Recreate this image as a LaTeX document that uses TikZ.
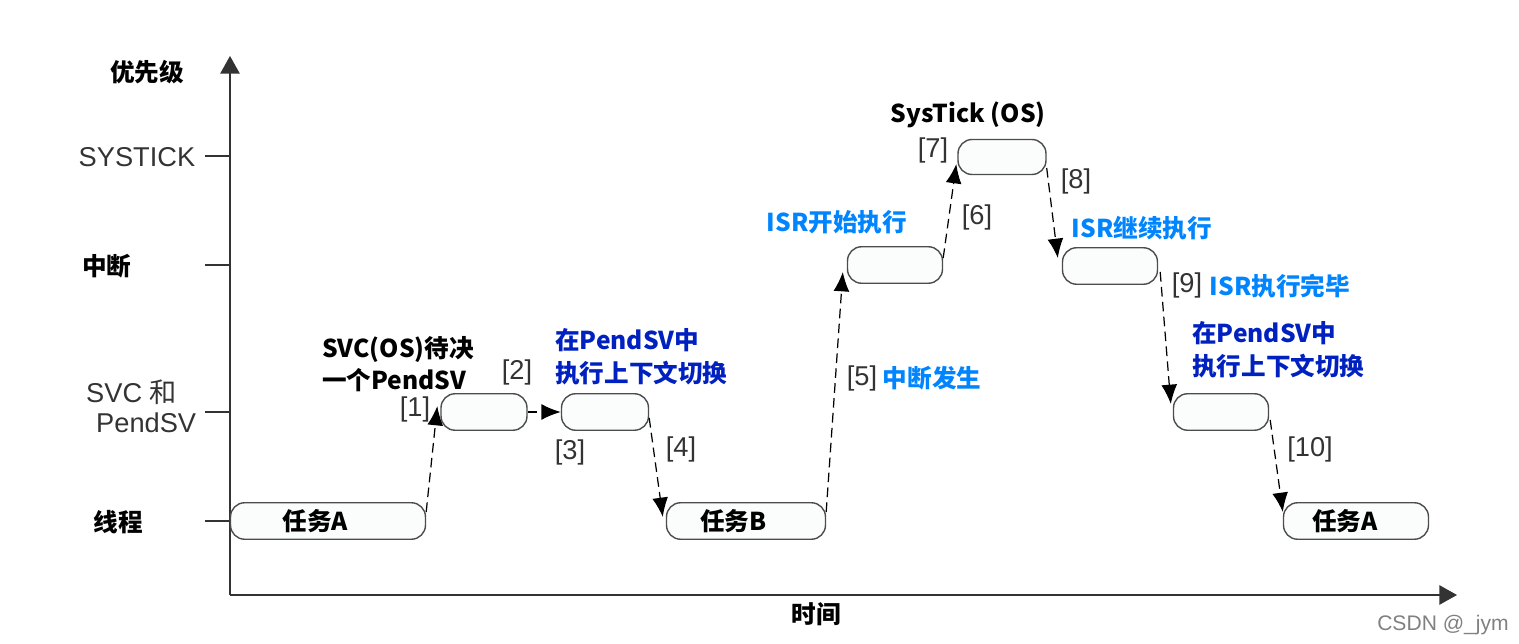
\documentclass[tikz,border=0pt]{standalone}
\usepackage{fontspec}
\setmainfont{Liberation Sans}
\newfontfamily\cjk{Noto Sans CJK SC}
\usetikzlibrary{arrows.meta}
\definecolor{DarkText}{rgb}{0.2,0.2,0.2}
\definecolor{BoxLine}{rgb}{0.3,0.3,0.3}
\definecolor{BoxFill}{rgb}{0.985,0.992,0.992}
\definecolor{DeepBlue}{rgb}{0.0,0.13,0.75}
\definecolor{SkyBlue}{rgb}{0.0,0.52,1.0}

\begin{document}
\begin{tikzpicture}[x=0.02cm,y=-0.02cm,
  slot/.style={draw=BoxLine,fill=BoxFill,line width=0.8pt,rounded corners=8pt,minimum height=0.73cm,inner sep=0pt},
  hanzi/.style={font=\cjk\bfseries\fontsize{14}{18.5}\selectfont},
  plain/.style={font=\fontsize{15.5}{18}\selectfont,text=DarkText},
  hop/.style={dashed,dash pattern=on 5.5pt off 3pt,line width=0.7pt,-{Latex[length=11pt,width=9pt]}}]
\useasboundingbox (0,0) rectangle (1519,644);

% axes
\draw[line width=0.8pt,DarkText,-{Triangle[length=10pt,width=11pt]}] (230,595) -- (230,56);
\draw[line width=0.8pt,DarkText,-{Triangle[length=10pt,width=11pt]}] (230,595) -- (1457,595);
\foreach \y in {156,265,412,521}
  \draw[line width=0.6pt,DarkText] (205,\y) -- (230,\y);

\node[hanzi] (prio) at (147,72) {优先级};
\node[plain] (lvlsys) at (137,157) {SYSTICK};
\node[hanzi] (lvlirq) at (107,266) {中断};
\node[plain,anchor=west] (lvlsvc) at (80,392) {SVC\ {\cjk 和}};
\node[plain,anchor=west] (lvlpend) at (90,423) {PendSV};
\node[hanzi] (lvlthr) at (118,522) {线程};
\node[hanzi] (time) at (816,614) {时间};

% running slots
\node[slot,minimum width=3.9cm,hanzi] (taskA) at (328,521) {任务A\kern0.5cm};
\node[slot,minimum width=1.72cm] (svcA) at (484,412) {};
\node[slot,minimum width=1.74cm] (svcB) at (605,412) {};
\node[slot,minimum width=3.18cm,hanzi] (taskB) at (746,521) {任务B\kern0.5cm};
\node[slot,minimum width=1.9cm] (isrA) at (895,265) {};
\node[slot,minimum width=1.76cm,minimum height=0.7cm] (tick) at (1002,157) {};
\node[slot,minimum width=1.9cm] (isrB) at (1110,266) {};
\node[slot,minimum width=1.9cm] (pend) at (1221,412) {};
\node[slot,minimum width=2.9cm,hanzi] (taskC) at (1356,521) {任务A\kern0.45cm};

% switches
\draw[hop] ([yshift=0.18cm]taskA.east) -- ([xshift=-0.06cm,yshift=0.12cm]svcA.west);
\draw[hop] (svcA.east) -- (svcB.west);
\draw[hop] ([yshift=-0.12cm]svcB.east) -- ([xshift=-0.06cm,yshift=0.08cm]taskB.west);
\draw[hop] ([yshift=0.18cm]taskB.east) -- ([xshift=-0.08cm,yshift=-0.14cm]isrA.west);
\draw[hop] ([yshift=0.14cm]isrA.east) -- ([xshift=-0.02cm,yshift=-0.14cm]tick.west);
\draw[hop] ([yshift=-0.22cm]tick.east) -- ([xshift=-0.08cm,yshift=0.16cm]isrB.west);
\draw[hop] ([xshift=0.04cm,yshift=-0.12cm]isrB.east) -- ([xshift=-0.04cm,yshift=0.16cm]pend.west);
\draw[hop] ([xshift=0.02cm,yshift=-0.16cm]pend.east) -- ([yshift=0.18cm]taskC.west);

% step numbers
\node[plain] (n1) at (415,409) {[1]};
\node[plain] (n2) at (517,372) {[2]};
\node[plain] (n3) at (570,452) {[3]};
\node[plain] (n4) at (681,449) {[4]};
\node[plain] (n5) at (862,378) {[5]};
\node[plain] (n6) at (977,217) {[6]};
\node[plain] (n7) at (933,150) {[7]};
\node[plain] (n8) at (1076,181) {[8]};
\node[plain] (n9) at (1187,285) {[9]};
\node[plain] (n10) at (1310,449) {[10]};

% notes
\node[hanzi,anchor=west,align=left] (svcnote) at (316,364) {SVC(OS)待决\\一个PendSV};
\node[hanzi,anchor=west,align=left,text=DeepBlue] (ctxA) at (549,357) {在PendSV中\\执行上下文切换};
\node[hanzi,text=SkyBlue] (irqon) at (932,378) {中断发生};
\node[hanzi,text=SkyBlue] (isrgo) at (837,222) {ISR开始执行};
\node[hanzi] (ticknote) at (968,115) {SysTick (OS)};
\node[hanzi,text=SkyBlue] (isrmore) at (1142,228) {ISR继续执行};
\node[hanzi,text=SkyBlue] (isrdone) at (1280,286) {ISR执行完毕};
\node[hanzi,anchor=west,align=left,text=DeepBlue] (ctxB) at (1186,350) {在PendSV中\\执行上下文切换};
\node[font=\fontsize{12}{14}\selectfont,text=gray] (mark) at (1443,625) {CSDN @\_jym};
\end{tikzpicture}
\end{document}
